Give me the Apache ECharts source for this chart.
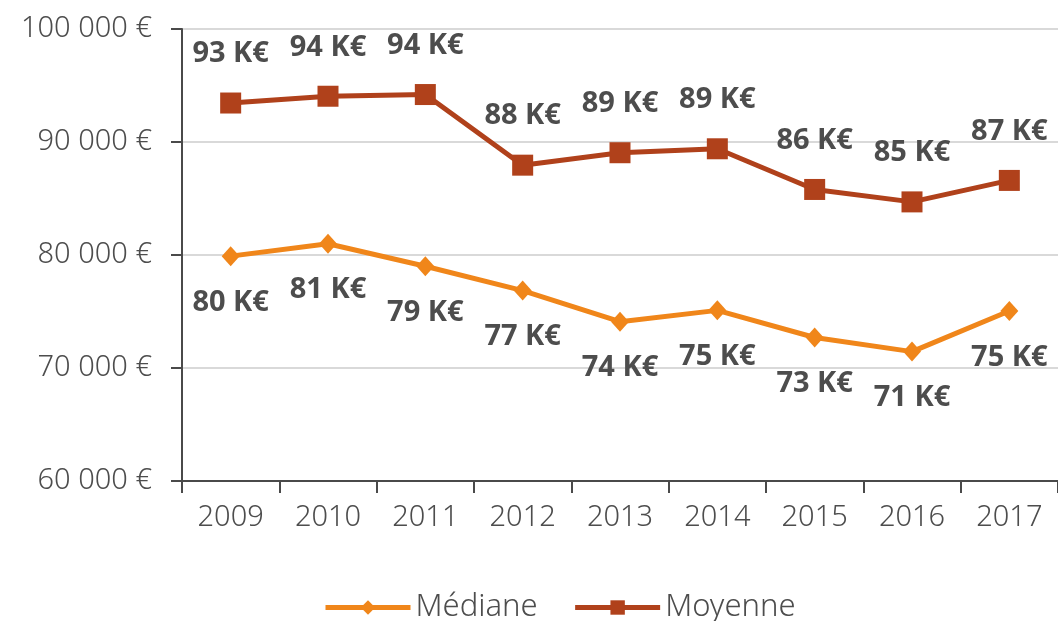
<!DOCTYPE html>
<html>
<head>
<meta charset="utf-8">
<script src="https://cdn.jsdelivr.net/npm/echarts@6/dist/echarts.min.js"></script>
<style>
html,body{margin:0;padding:0;background:#fff;}
#chart{width:1058px;height:621px;}
</style>
</head>
<body>
<div id="chart"></div>
<script>
// ========== données ==========
const annees = ['2009','2010','2011','2012','2013','2014','2015','2016','2017'];
const mediane = [79900, 81000, 79000, 76850, 74100, 75100, 72700, 71450, 75050];
const moyenne = [93450, 94050, 94200, 87950, 89050, 89400, 85800, 84700, 86600];

const axisColor = '#4a4a4a';
const textColor = '#4d4d4d';
const fmtEuro = v => String(v).replace(/\B(?=(\d{3})+(?!\d))/g, ' ') + ' €';
const fmtK = p => Math.round(p.value / 1000) + ' K€';

const chart = echarts.init(document.getElementById('chart'));
chart.setOption({
    backgroundColor: '#fff',
    animation: false,
    textStyle: { fontFamily: 'Noto Sans' },
    grid: { left: 182, right: -7, top: 29, bottom: 140 },
    legend: {
        top: 587, left: 318,
        itemWidth: 85, itemHeight: 18, itemGap: 35,
        lineStyle: { width: 5 },
        textStyle: { fontSize: 31, color: textColor, fontWeight: 300 },
        data: ['Médiane', 'Moyenne']
    },
    xAxis: {
        type: 'category', data: annees, boundaryGap: true,
        axisLine: { lineStyle: { color: axisColor, width: 2 } },
        axisTick: { show: true, length: 12, lineStyle: { color: axisColor, width: 2 } },
        axisLabel: { color: textColor, fontSize: 29, margin: 22, fontWeight: 300 }
    },
    yAxis: {
        type: 'value', min: 60000, max: 100000, interval: 10000,
        axisLine: { show: true, lineStyle: { color: axisColor, width: 2 } },
        axisTick: { show: true, length: 11, lineStyle: { color: axisColor, width: 2 } },
        splitLine: { lineStyle: { color: '#d9d9d9', width: 2 } },
        axisLabel: { color: textColor, fontSize: 29, margin: 30, fontWeight: 300, formatter: fmtEuro }
    },
    series: [
        {
            name: 'Médiane', type: 'line', data: mediane,
            symbol: 'diamond', symbolSize: [18, 20],
            lineStyle: { color: '#f0861a', width: 5 },
            itemStyle: { color: '#f0861a' },
            label: { show: true, position: 'bottom', distance: 22, formatter: fmtK,
                     color: textColor, fontSize: 29, fontWeight: 'bold' }
        },
        {
            name: 'Moyenne', type: 'line', data: moyenne,
            symbol: 'rect', symbolSize: 21,
            lineStyle: { color: '#b0411b', width: 5 },
            itemStyle: { color: '#b0411b' },
            label: { show: true, position: 'top', distance: 24, formatter: fmtK,
                     color: textColor, fontSize: 29, fontWeight: 'bold' }
        }
    ]
});
</script>
</body>
</html>
